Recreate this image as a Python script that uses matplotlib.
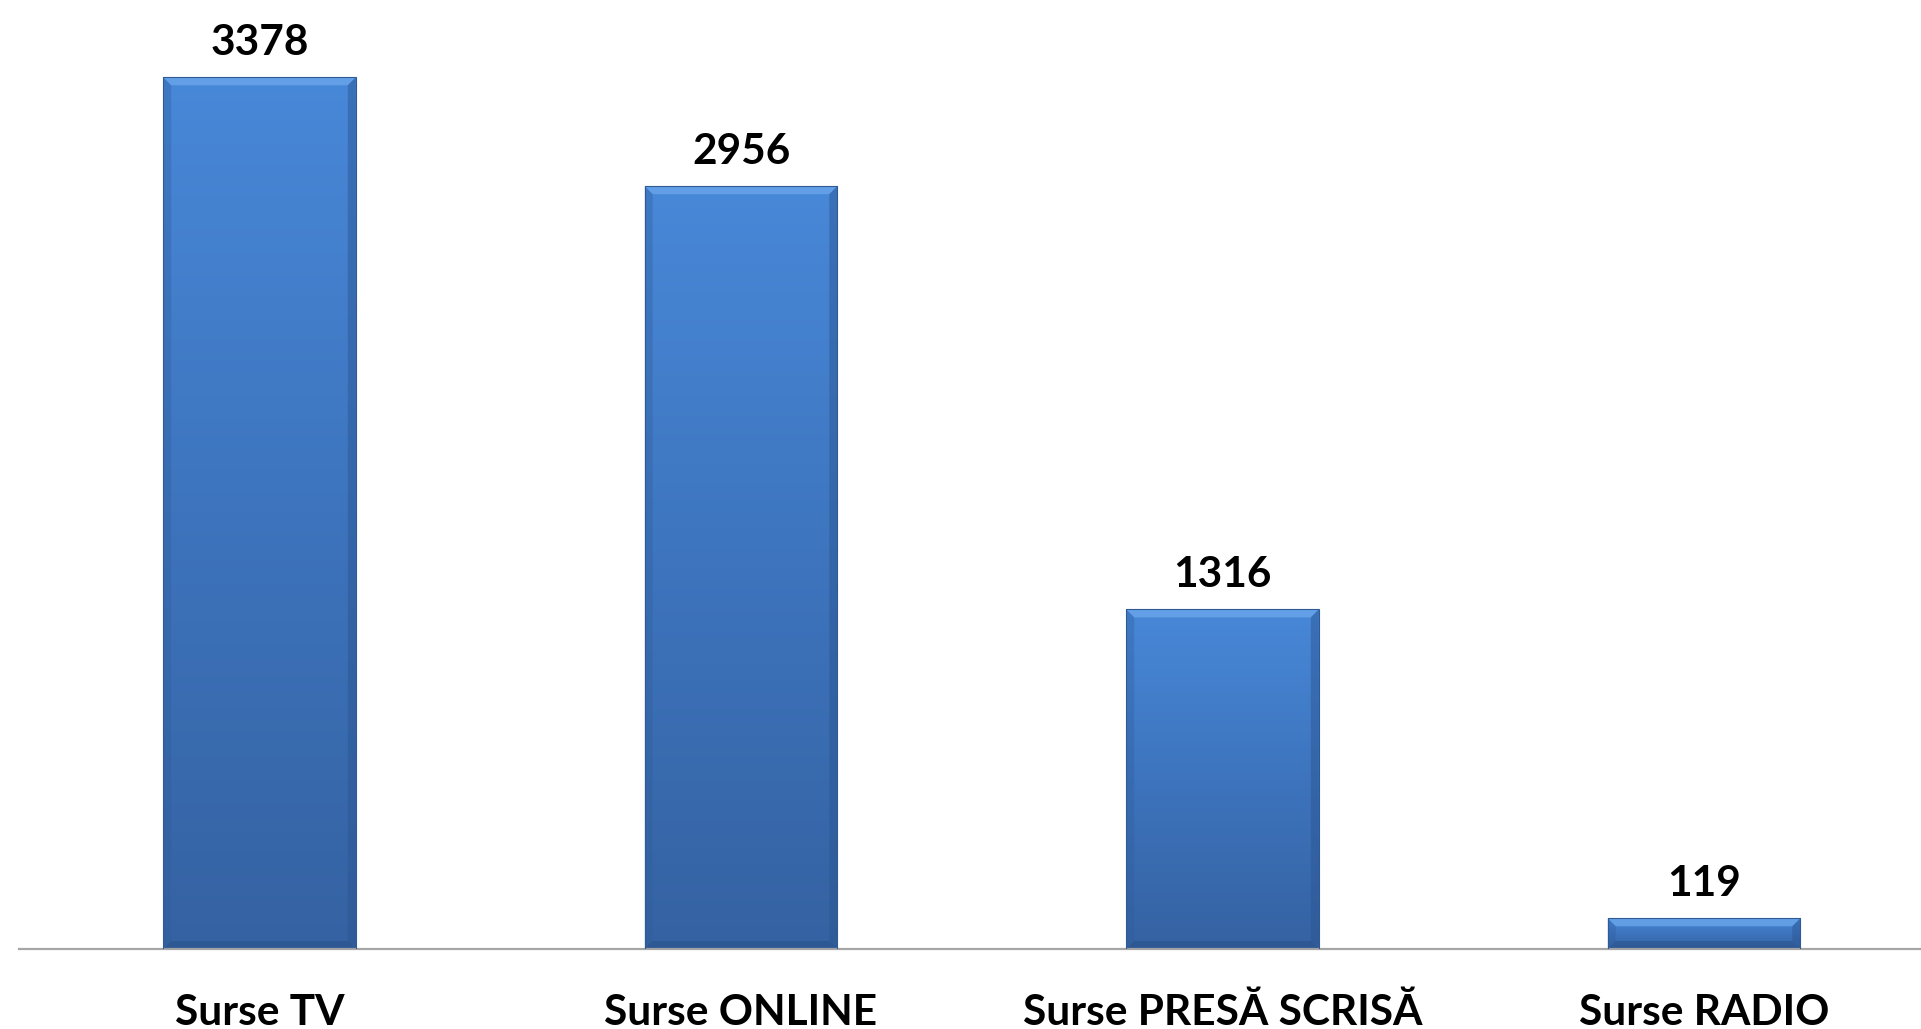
import numpy as np
import matplotlib.pyplot as plt
from matplotlib.patches import Polygon

# Date
categorii = ["Surse TV", "Surse ONLINE", "Surse PRESĂ SCRISĂ", "Surse RADIO"]
valori = [3378, 2956, 1316, 119]

W, H = 1921, 1029
fig = plt.figure(figsize=(W / 100, H / 100), dpi=100)
# axa trece putin dincolo de marginea dreapta, ca in original
ax = fig.add_axes([18.75 / W, 80 / H, 1926 / W, 929 / H])
ax.set_xlim(-0.5, 3.5)
ax.set_ylim(0, 3600)

bar_w = 0.4
px_x = 4.0 / 1926      # unitati x pe pixel
px_y = 3600.0 / 929    # unitati y pe pixel
bev = 8                # latimea bizoului in pixeli

grad = np.linspace(0, 1, 256).reshape(-1, 1)
cmap = plt.matplotlib.colors.LinearSegmentedColormap.from_list(
    "bara", ["#3562a2", "#3d74bd", "#4888d8"])

x = np.arange(len(categorii))
bars = ax.bar(x, valori, width=bar_w, color="none", edgecolor="#2f5a94",
              linewidth=0.8, zorder=3)

for xi, v, b in zip(x, valori, bars):
    x0, x1 = xi - bar_w / 2, xi + bar_w / 2
    im = ax.imshow(grad, extent=[x0, x1, 0, v], origin="lower", cmap=cmap,
                   aspect="auto", zorder=2)
    im.set_clip_path(b)
    bx, by = bev * px_x, bev * px_y
    by = min(by, v / 2.5)
    # bizou sus (mai deschis)
    ax.add_patch(Polygon([[x0, v], [x1, v], [x1 - bx, v - by], [x0 + bx, v - by]],
                         closed=True, facecolor="#6aa6ea", edgecolor="none",
                         alpha=0.8, zorder=2.5))
    # margini laterale (mai inchise)
    ax.add_patch(Polygon([[x0, v], [x0 + bx, v - by], [x0 + bx, by], [x0, 0]],
                         closed=True, facecolor="#2f5d9c", edgecolor="none",
                         alpha=0.35, zorder=2.5))
    ax.add_patch(Polygon([[x1, v], [x1 - bx, v - by], [x1 - bx, by], [x1, 0]],
                         closed=True, facecolor="#2a5490", edgecolor="none",
                         alpha=0.45, zorder=2.5))
    ax.add_patch(Polygon([[x0, 0], [x1, 0], [x1 - bx, by], [x0 + bx, by]],
                         closed=True, facecolor="#24497f", edgecolor="none",
                         alpha=0.4, zorder=2.5))

    ax.annotate(str(v), xy=(xi, v), xytext=(0, 22), textcoords="offset pixels",
                ha="center", va="baseline", fontsize=30.5, fontweight="bold",
                family="Lato", color="black")

for xi, lab in zip(x, categorii):
    ax.annotate(lab, xy=(xi, 0), xytext=(0, -76), textcoords="offset pixels",
                ha="center", va="baseline", fontsize=30.5, fontweight="bold",
                family="Lato", color="black", annotation_clip=False)

for s in ["top", "right", "left"]:
    ax.spines[s].set_visible(False)
ax.spines["bottom"].set_color("#a6a6a6")
ax.spines["bottom"].set_linewidth(1.6)
ax.set_xticks([])
ax.set_yticks([])

fig.savefig("out.png", dpi=100)
